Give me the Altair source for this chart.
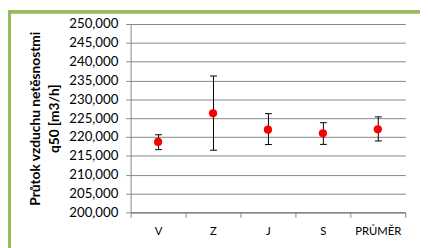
import altair as alt
import pandas as pd

categories = ["V", "Z", "J", "S", "PRŮMĚR"]
values = [218700, 226300, 221950, 221000, 222050]
lows = [216650, 216500, 218000, 218050, 218950]
highs = [220600, 236200, 226200, 223800, 225350]
y_ticks = [200000, 205000, 210000, 215000, 220000, 225000, 230000, 235000, 240000, 245000, 250000]

df = pd.DataFrame({"cat": categories, "val": values, "lo": lows, "hi": highs})

FONT = "Lato"
GREEN = "#9bbb59"
TITLE = ["Průtok vzduchu netěsnostmi", "q50 [m3/h]"]

x = alt.X("cat:N", sort=categories, title=None,
          scale=alt.Scale(paddingInner=0, paddingOuter=0),
          axis=alt.Axis(labelAngle=0, labelFont=FONT, labelFontSize=11.5, labelColor="#000000",
                        domainColor="#868686", domainWidth=1.5, tickColor="#868686",
                        tickBand="extent", tickSize=5, labelPadding=9, grid=False))


def y_enc(field):
    return alt.Y(field, type="quantitative", title=TITLE,
                 scale=alt.Scale(domain=[200000, 250000], nice=False, zero=False),
                 axis=alt.Axis(values=y_ticks, format=",d", labelFont=FONT, labelFontSize=13.5,
                               labelOverlap=False, labelColor="#000000", domainColor="#868686",
                               tickColor="#868686", tickSize=5, labelPadding=8,
                               gridColor="#868686", gridWidth=1,
                               titleFont=FONT, titleFontSize=14, titleFontWeight="bold",
                               titleColor="#000000", titlePadding=7, titleLineHeight=20))


base = alt.Chart(df)
bars = base.mark_rule(color="#000000", strokeWidth=1, opacity=1, xOffset=0.5).encode(
    x=x, y=y_enc("lo"), y2="hi:Q")
caps_hi = base.mark_tick(color="#000000", thickness=1, size=7, opacity=1, xOffset=0.5,
                         orient="horizontal").encode(x=x, y=y_enc("hi"))
caps_lo = base.mark_tick(color="#000000", thickness=1, size=7, opacity=1, xOffset=0.5,
                         orient="horizontal").encode(x=x, y=y_enc("lo"))
pts = base.mark_point(filled=True, color="#ff0000", size=70, opacity=1).encode(x=x, y=y_enc("val"))

border_left = base.mark_rule(color=GREEN, strokeWidth=3).encode(
    x=alt.value(-123.5), y=alt.value(-14), y2=alt.value(300))
border_top = base.mark_rule(color=GREEN, strokeWidth=3).encode(
    x=alt.value(-125), x2=alt.value(300), y=alt.value(-12.5))

chart = alt.layer(bars, caps_hi, caps_lo, pts, border_left, border_top).properties(
    width=280, height=192,
    autosize=alt.AutoSizeParams(type="none"),
    padding={"left": 125, "top": 14, "right": 15, "bottom": 34},
    background="#ffffff",
).configure_view(stroke=None)

chart.save("out.html", embed_options={"renderer": "svg", "actions": False})
